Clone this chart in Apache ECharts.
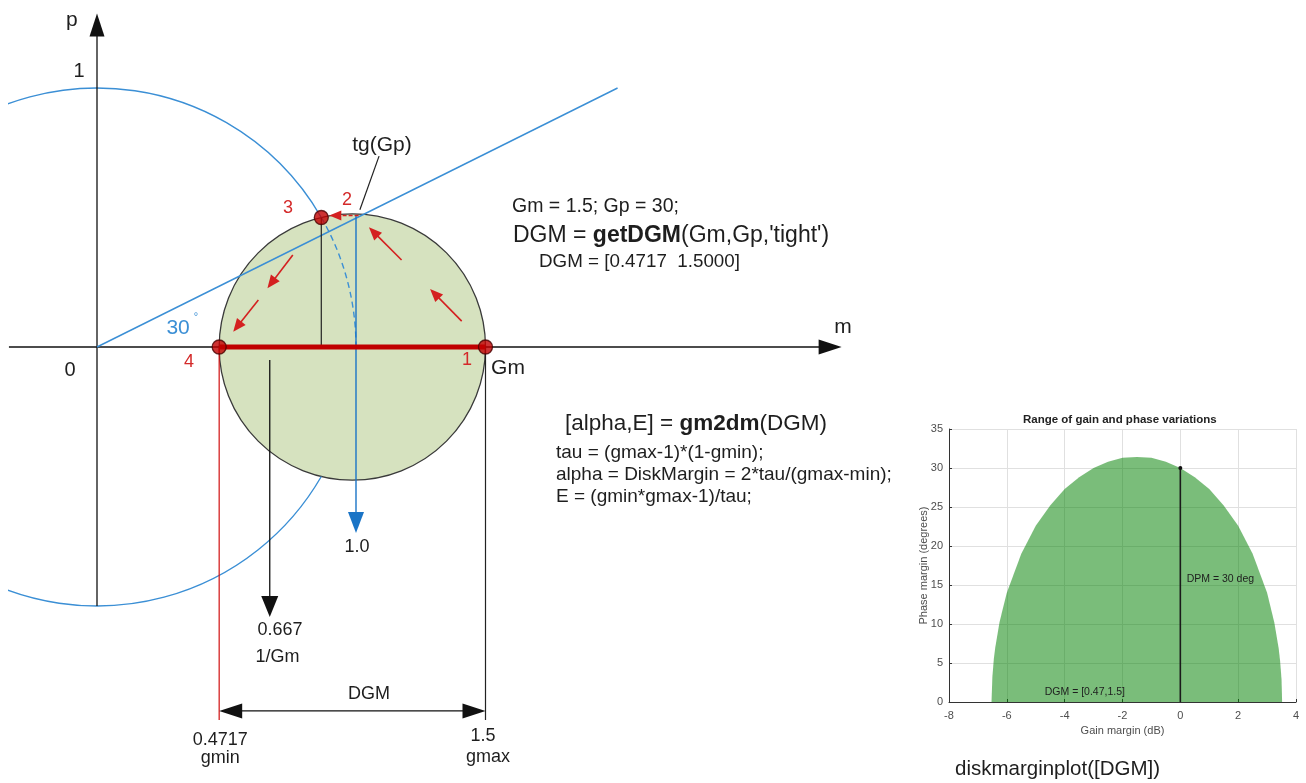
<!DOCTYPE html>
<html>
<head>
<meta charset="utf-8">
<title>Disk gain margin</title>
<script src="https://cdn.jsdelivr.net/npm/echarts@6/dist/echarts.min.js"></script>
<style>
  html, body { margin: 0; padding: 0; background: #ffffff; }
  #chart { width: 1306px; height: 783px; }
</style>
</head>
<body>
<div id="chart"></div>
<script>
// ---- values ----------------------------------------------------------
const Gm = 1.5;            // gain margin
const Gp = 30;             // phase margin, degrees
const gmin = 0.4717;       // DGM lower bound
const gmax = 1.5;          // DGM upper bound
const invGm = 0.667;       // 1/Gm
const unitGain = 1.0;

// unit circle and the disk through gmin / gmax: [centre m, centre p, radius]
const unitCircle = [[0, 0, 1]];
const diskCircle = [[(gmin + gmax) / 2, 0, (gmax - gmin) / 2]];

// point 3: unit circle at the phase margin
const point3 = [0.866, 0.5];
// blue construction line from the origin
const gpLine = [[0, 0, 2.01, 1.0]];

// disk margin plot: boundary of the gain/phase variation region
const gainDb   = [-6.53, -6.5, -6.45, -6.4, -6.25, -6.0, -5.5, -5.0, -4.5, -4.0, -3.5, -3.0, -2.5, -2.0, -1.5,
                  -1.0, -0.5, 0.0, 0.5, 1.0, 1.5, 2.0, 2.5, 3.0, 3.25, 3.4, 3.45, 3.5, 3.52];
const phaseDeg = [0.0, 3.2, 5.5, 7.0, 10.3, 14.0, 19.0, 22.6, 25.2, 27.3, 28.8, 30.0, 30.8, 31.3, 31.4,
                  31.3, 30.8, 30.0, 28.8, 27.3, 25.2, 22.6, 19.0, 14.0, 10.2, 6.9, 5.3, 2.9, 0.0];
const dpm = 30;
const dgmText = '[0.47,1.5]';
const xTickRange = [-8, 4, 2];
const yTickRange = [0, 35, 5];

// ---- styles ----------------------------------------------------------
const FONT = 'Arial, "Liberation Sans", Helvetica, sans-serif';
const BLUE = '#3b8fd5';
const BLUE_DARK = '#1a74c6';
const RED = '#c00000';
const RED_TXT = '#d42a2a';
const INK = '#1e1e1e';

// left diagram scale: pixels per unit, origin pixel, visible data window
const PX = 259;
const ORIGIN = [97, 347];
const XR = [-0.34, 2.87];
const YR = [-1.6, 1.3];

const chart = echarts.init(document.getElementById('chart'), null, { renderer: 'canvas' });

// generic arrow / segment drawer in data coordinates
function segmentSeries(segs, opt) {
  return {
    type: 'custom', xAxisIndex: 0, yAxisIndex: 0, silent: true, z: opt.z || 5,
    data: segs,
    renderItem: function (params, api) {
      const a = api.coord([api.value(0), api.value(1)]);
      const b = api.coord([api.value(2), api.value(3)]);
      const dx = b[0] - a[0], dy = b[1] - a[1];
      const len = Math.hypot(dx, dy) || 1;
      const ux = dx / len, uy = dy / len;
      const L = opt.headLen || 0, W = (opt.headWid || 0) / 2;
      let s = a.slice(), e = b.slice();
      const children = [];
      function head(tip, dirx, diry) {
        const bx = tip[0] - dirx * L, by = tip[1] - diry * L;
        children.push({
          type: 'polygon',
          shape: { points: [[tip[0], tip[1]], [bx - diry * W, by + dirx * W], [bx + diry * W, by - dirx * W]] },
          style: { fill: opt.color }
        });
      }
      if (opt.end) e = [b[0] - ux * L * 0.85, b[1] - uy * L * 0.85];
      if (opt.start) s = [a[0] + ux * L * 0.85, a[1] + uy * L * 0.85];
      children.unshift({
        type: 'line',
        shape: { x1: s[0], y1: s[1], x2: e[0], y2: e[1] },
        style: { stroke: opt.color, lineWidth: opt.width || 1.2, lineDash: opt.dash || null, fill: null }
      });
      if (opt.end) head(b, ux, uy);
      if (opt.start) head(a, -ux, -uy);
      return { type: 'group', children: children };
    }
  };
}

function circleSeries(data, opt) {
  return {
    type: 'custom', xAxisIndex: 0, yAxisIndex: 0, silent: true, z: opt.z || 2,
    clip: !!opt.clip,
    data: data,
    renderItem: function (params, api) {
      const c = api.coord([api.value(0), api.value(1)]);
      const r = api.size([api.value(2), 0])[0];
      if (opt.arc) {
        return {
          type: 'arc',
          shape: { cx: c[0], cy: c[1], r: r, startAngle: opt.arc[0] * Math.PI / 180, endAngle: opt.arc[1] * Math.PI / 180, clockwise: true },
          style: { stroke: opt.stroke, lineWidth: opt.width, lineDash: opt.dash || null, fill: null }
        };
      }
      return {
        type: 'circle',
        shape: { cx: c[0], cy: c[1], r: r },
        style: { stroke: opt.stroke, lineWidth: opt.width, fill: opt.fill }
      };
    }
  };
}

function textSeries(notes, gridIdx) {
  return {
    type: 'custom', xAxisIndex: gridIdx, yAxisIndex: gridIdx, silent: true, z: 20,
    data: notes.map(n => n.at),
    renderItem: function (params, api) {
      const n = notes[params.dataIndex];
      const c = api.coord([api.value(0), api.value(1)]);
      return {
        type: 'text', x: c[0], y: c[1],
        style: {
          text: n.t, fill: n.color || INK,
          font: (n.weight || 'normal') + ' ' + (n.size || 18) + 'px ' + FONT,
          align: n.align || 'center', verticalAlign: 'middle'
        }
      };
    }
  };
}

// annotation texts of the m-p diagram (data coordinates)
const diagramNotes = [
  { t: 'p', at: [-0.097, 1.263], size: 21 },
  { t: '1', at: [-0.069, 1.062], size: 20 },
  { t: '0', at: [-0.104, -0.089], size: 20 },
  { t: 'm', at: [2.880, 0.077], size: 21 },
  { t: 'tg(Gp)', at: [1.100, 0.780], size: 21 },
  { t: 'Gm', at: [1.587, -0.081], size: 21 },
  { t: '30', at: [0.313, 0.073], size: 21, color: BLUE },
  { t: '°', at: [0.382, 0.116], size: 11, color: BLUE },
  { t: '1', at: [1.429, -0.050], size: 18, color: RED_TXT },
  { t: '2', at: [0.965, 0.568], size: 18, color: RED_TXT },
  { t: '3', at: [0.737, 0.537], size: 18, color: RED_TXT },
  { t: '4', at: [0.355, -0.058], size: 18, color: RED_TXT },
  { t: unitGain.toFixed(1), at: [unitGain + 0.004, -0.772], size: 18 },
  { t: String(invGm), at: [invGm + 0.04, -1.093], size: 18 },
  { t: '1/Gm', at: [invGm + 0.03, -1.197], size: 18 },
  { t: 'DGM', at: [1.050, -1.340], size: 18 },
  { t: String(gmin), at: [gmin + 0.004, -1.517], size: 18 },
  { t: 'gmin', at: [gmin + 0.004, -1.587], size: 18 },
  { t: String(gmax), at: [gmax - 0.01, -1.502], size: 18 },
  { t: 'gmax', at: [gmax + 0.01, -1.583], size: 18 }
];

// annotation texts inside the disk margin plot (data coordinates)
const plotNotes = [
  { t: 'DPM = ' + dpm + ' deg', at: [0.22, 15.8], size: 10.5, align: 'left' },
  { t: 'DGM = ' + dgmText, at: [-4.69, 1.3], size: 10.5, align: 'left' }
];

const gridLeft = ORIGIN[0] + XR[0] * PX;
const gridTop = ORIGIN[1] - YR[1] * PX;

const option = {
  backgroundColor: '#ffffff',
  animation: false,
  textStyle: { fontFamily: FONT },
  grid: [
    { left: gridLeft, top: gridTop, width: (XR[1] - XR[0]) * PX, height: (YR[1] - YR[0]) * PX, outerBoundsMode: 'none', containLabel: false },
    { left: 949, top: 429, width: 347, height: 273, outerBoundsMode: 'none', containLabel: false }
  ],
  xAxis: [
    { gridIndex: 0, type: 'value', min: XR[0], max: XR[1], show: false },
    {
      gridIndex: 1, type: 'value', min: xTickRange[0], max: xTickRange[1], interval: xTickRange[2],
      name: 'Gain margin (dB)', nameLocation: 'middle', nameGap: 23, nameMoveOverlap: false,
      nameTextStyle: { color: '#4d4d4d', fontSize: 11, fontFamily: FONT },
      axisLine: { onZero: false, lineStyle: { color: '#333', width: 1 } },
      axisTick: { inside: true, length: 3, lineStyle: { color: '#333' } },
      axisLabel: { color: '#4d4d4d', fontSize: 11, margin: 8, fontFamily: FONT },
      splitLine: { show: true, lineStyle: { color: '#e0e0e0', width: 1 } }
    }
  ],
  yAxis: [
    { gridIndex: 0, type: 'value', min: YR[0], max: YR[1], show: false },
    {
      gridIndex: 1, type: 'value', min: yTickRange[0], max: yTickRange[1], interval: yTickRange[2],
      name: 'Phase margin (degrees)', nameLocation: 'middle', nameGap: 20, nameRotate: 90, nameMoveOverlap: false,
      nameTextStyle: { color: '#4d4d4d', fontSize: 11, fontFamily: FONT },
      axisLine: { show: true, onZero: false, lineStyle: { color: '#333', width: 1 } },
      axisTick: { show: true, inside: true, length: 3, lineStyle: { color: '#333' } },
      axisLabel: { color: '#4d4d4d', fontSize: 11, margin: 6, fontFamily: FONT },
      splitLine: { show: true, lineStyle: { color: '#e0e0e0', width: 1 } }
    }
  ],
  series: [
    // the disk
    circleSeries(diskCircle, { fill: '#d6e2bf', stroke: '#3a3a3a', width: 1.3, z: 2 }),
    // unit circle outside the disk, and its dashed part inside
    circleSeries(unitCircle, { arc: [Gp, 360 - Gp], stroke: BLUE, width: 1.4, clip: true, z: 3 }),
    circleSeries(unitCircle, { arc: [360 - Gp, 360], stroke: BLUE, width: 1.4, dash: [6, 4], clip: true, z: 3 }),
    // line from the origin
    segmentSeries(gpLine, { color: BLUE, width: 1.4, z: 4 }),
    // axes m and p
    segmentSeries([[XR[0], 0, 2.875, 0], [0, -1.0, 0, 1.288]], { color: '#111', width: 1.3, end: true, headLen: 23, headWid: 15, z: 3 }),
    // plain black construction lines
    segmentSeries([
      [point3[0], point3[1], point3[0], 0],
      [gmax, 0, gmax, -1.44],
      [1.089, 0.737, 1.015, 0.530]
    ], { color: '#222', width: 1.2, z: 5 }),
    // red line down from gmin
    segmentSeries([[gmin, 0, gmin, -1.44]], { color: '#d01010', width: 1.2, z: 5 }),
    // 1/Gm arrow
    segmentSeries([[invGm, -0.05, invGm, -1.042]], { color: '#111', width: 1.3, end: true, headLen: 21, headWid: 17, z: 6 }),
    // unit gain arrow
    segmentSeries([[unitGain, 0.508, unitGain, -0.718]], { color: BLUE_DARK, width: 1.4, end: true, headLen: 21, headWid: 16, z: 6 }),
    // DGM span
    segmentSeries([[gmin, -1.405, gmax, -1.405]], { color: '#111', width: 1.3, start: true, end: true, headLen: 23, headWid: 15, z: 6 }),
    // red disk range on the m axis
    segmentSeries([[gmin, 0, gmax, 0]], { color: RED, width: 5, z: 7 }),
    // red arrows along the disk
    segmentSeries([
      [1.408, 0.100, 1.286, 0.224],
      [1.176, 0.336, 1.050, 0.462],
      [0.756, 0.355, 0.658, 0.227],
      [0.623, 0.181, 0.526, 0.059]
    ], { color: '#d42020', width: 1.6, end: true, headLen: 13, headWid: 11, z: 8 }),
    segmentSeries([[1.01, 0.508, 0.897, 0.508]], { color: '#d42020', width: 1.6, dash: [4, 2], end: true, headLen: 12, headWid: 10, z: 8 }),
    // points 1, 3, 4
    {
      type: 'scatter', xAxisIndex: 0, yAxisIndex: 0, silent: true, z: 10,
      symbol: 'circle', symbolSize: 14,
      itemStyle: { color: RED, borderColor: '#4a0000', borderWidth: 1.3 },
      data: [[gmax, 0], point3, [gmin, 0]]
    },
    textSeries(diagramNotes, 0),

    // ---- disk margin plot ----
    {
      type: 'line', xAxisIndex: 1, yAxisIndex: 1, silent: true, z: 2,
      symbol: 'none', smooth: false,
      lineStyle: { width: 0, opacity: 0 },
      areaStyle: { color: 'rgba(0,128,0,0.52)', opacity: 1, origin: 0 },
      data: gainDb.map((g, i) => [g, phaseDeg[i]])
    },
    {
      type: 'line', xAxisIndex: 1, yAxisIndex: 1, silent: true, z: 4,
      symbol: 'circle', showSymbol: true,
      symbolSize: function (v, p) { return p.dataIndex === 1 ? 4 : 0; },
      itemStyle: { color: '#111' },
      lineStyle: { color: '#1a1a1a', width: 1.6 },
      data: [[0, 0], [0, dpm]]
    },
    textSeries(plotNotes, 1)
  ],
  graphic: [
    { type: 'text', left: 1123 - 100, top: 414, style: { text: 'Range of gain and phase variations', font: 'bold 11.5px ' + FONT, fill: '#222', width: 200, align: 'center' } },
    { type: 'text', x: 512, y: 207, style: { text: 'Gm = 1.5; Gp = 30;', font: '19.5px ' + FONT, fill: INK, verticalAlign: 'middle' } },
    {
      type: 'text', x: 513, y: 236,
      style: {
        text: '{n|DGM = }{b|getDGM}{n|(Gm,Gp,\'tight\')}', verticalAlign: 'middle',
        rich: { n: { font: '23px ' + FONT, fill: INK }, b: { font: 'bold 23px ' + FONT, fill: INK } }
      }
    },
    { type: 'text', x: 539, y: 262, style: { text: 'DGM = [0.4717  1.5000]', font: '18.8px ' + FONT, fill: INK, verticalAlign: 'middle' } },
    {
      type: 'text', x: 565, y: 424,
      style: {
        text: '{n|[alpha,E] = }{b|gm2dm}{n|(DGM)}', verticalAlign: 'middle',
        rich: { n: { font: '22.5px ' + FONT, fill: INK }, b: { font: 'bold 22.5px ' + FONT, fill: INK } }
      }
    },
    { type: 'text', x: 556, y: 453, style: { text: 'tau = (gmax-1)*(1-gmin);', font: '19px ' + FONT, fill: INK, verticalAlign: 'middle' } },
    { type: 'text', x: 556, y: 475, style: { text: 'alpha = DiskMargin = 2*tau/(gmax-min);', font: '19px ' + FONT, fill: INK, verticalAlign: 'middle' } },
    { type: 'text', x: 556, y: 497, style: { text: 'E = (gmin*gmax-1)/tau;', font: '19px ' + FONT, fill: INK, verticalAlign: 'middle' } },
    { type: 'text', x: 955, y: 769, style: { text: 'diskmarginplot([DGM])', font: '20.5px ' + FONT, fill: INK, verticalAlign: 'middle' } }
  ]
};

chart.setOption(option);
</script>
</body>
</html>
